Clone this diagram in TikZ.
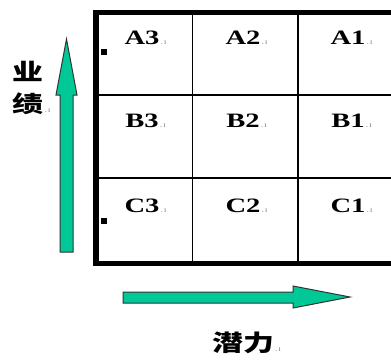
\documentclass[tikz,border=0pt]{standalone}
\usepackage{fontspec}
\setmainfont{Liberation Serif}
\newfontfamily\cellfont[FakeStretch=1.4]{Liberation Serif}
\newfontfamily\cjkfont[FakeStretch=1.35]{Noto Sans CJK SC}
\usetikzlibrary{positioning}
\definecolor{arrowgreen}{RGB}{0,200,150}
\newcommand{\tailmark}{\rlap{\normalfont\fontsize{8}{9}\selectfont\color{black!55}\,.\,\i}}
\tikzset{
    frame/.style = {draw=black,line width=5.5bp},
    gridline/.style = {draw=black,line width=1.6bp},
    cell/.style = {inner sep=0pt,font=\cellfont\bfseries\fontsize{20.5}{24}\selectfont},
    axislabel/.style = {inner sep=0pt,align=center,font=\cjkfont\bfseries\fontsize{23}{32}\selectfont},
    bullet/.style = {rectangle,fill=black,minimum size=6bp,inner sep=0pt},
    bigarrow/.style = {fill=arrowgreen,draw=black!80,line width=1bp,line join=miter}
}
\begin{document}
\begin{tikzpicture}[x=1bp,y=-1bp]
  \clip (0,0) rectangle (391,362);
  \fill[white] (0,0) rectangle (391,362);

  % table
  \draw[gridline] (192.5,12.5) -- (192.5,263.5);
  \draw[gridline] (298,12.5) -- (298,263.5);
  \draw[gridline] (96,95) -- (403,95);
  \draw[gridline] (96,178) -- (403,178);
  \draw[frame] (96,12.5) rectangle (403,263.5);

  \node[cell] (a3) at (142,38) {A3\tailmark};
  \node[cell] (a2) at (243,38) {A2\tailmark};
  \node[cell] (a1) at (348,38) {A1\tailmark};
  \node[cell] (b3) at (142,121) {B3\tailmark};
  \node[cell] (b2) at (243,121) {B2\tailmark};
  \node[cell] (b1) at (348,121) {B1\tailmark};
  \node[cell] (c3) at (142,206) {C3\tailmark};
  \node[cell] (c2) at (243,206) {C2\tailmark};
  \node[cell] (c1) at (348,206) {C1\tailmark};

  \node[bullet] (ma) at (103.5,51.5) {};
  \node[bullet] (mc) at (103.5,221) {};

  % axes
  \draw[bigarrow] (60,252) -- (60,95) -- (56,95) -- (66.5,39) -- (77,95) -- (73,95) -- (73,252) -- cycle;
  \draw[bigarrow] (123,292) -- (293,292) -- (293,286) -- (350,297) -- (293,308) -- (293,303) -- (123,303) -- cycle;

  \node[axislabel] (perf) at (28,88) {业\\绩\tailmark};
  \node[axislabel] (pot) at (243,343) {潜力\tailmark};
\end{tikzpicture}
\end{document}
